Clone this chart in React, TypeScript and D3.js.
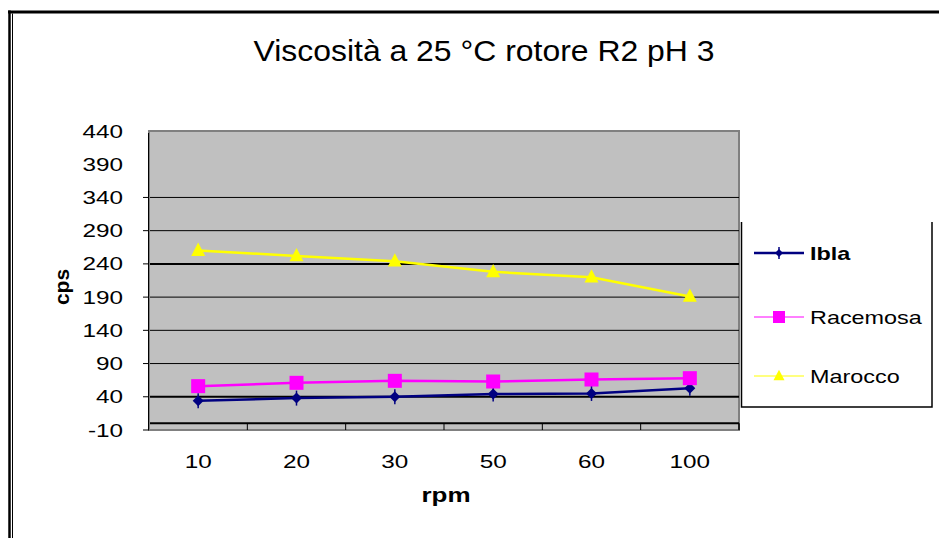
import React from "react";
import * as d3 from "d3";

const categories = ["10", "20", "30", "50", "60", "100"];
const ibla = [34, 38, 40, 44, 45, 53];
const racemosa = [56, 61, 64, 63, 66, 68];
const marocco = [260, 252, 244, 228, 220, 191];
const yTicks = [-10, 40, 90, 140, 190, 240, 290, 340, 390, 440];
const gridValues = [40, 90, 140, 190, 240, 290, 340];

const W = 939;
const H = 538;
const FONT = "'Liberation Sans', Arial, sans-serif";

const series = [
  { name: "Ibla", values: ibla, color: "#000080", width: 2.5, legendWidth: 2.5, marker: "diamond", bold: true },
  { name: "Racemosa", values: racemosa, color: "#FF00FF", width: 2.5, legendWidth: 1, marker: "square", bold: false },
  { name: "Marocco", values: marocco, color: "#FFFF00", width: 2.5, legendWidth: 1.2, marker: "triangle", bold: false },
];

function Marker({ type, x, y, color, size }: { type: string; x: number; y: number; color: string; size: number }) {
  if (type === "square") {
    return <rect x={x - size / 2} y={y - size / 2} width={size} height={size} fill={color} />;
  }
  if (type === "triangle") {
    const h = size * 0.95;
    return (
      <path
        d={`M${x},${y - h * 0.6} L${x + size / 2},${y + h * 0.4} L${x - size / 2},${y + h * 0.4} Z`}
        fill={color}
      />
    );
  }
  const s = size / 2;
  return (
    <g>
      <path d={`M${x},${y - s} L${x + s},${y} L${x},${y + s} L${x - s},${y} Z`} fill={color} />
      <line x1={x} x2={x} y1={y - s - 2} y2={y + s + 2} stroke={color} strokeWidth={1.5} />
    </g>
  );
}

export default function App() {
  const plot = { left: 149, right: 739, top: 131, bottom: 430 };
  const x = d3.scaleBand<string>().domain(categories).range([plot.left, plot.right]).padding(0);
  const y = d3.scaleLinear().domain([-10, 440]).range([plot.bottom, plot.top]);
  const cx = (c: string) => (x(c) as number) + x.bandwidth() / 2;
  const line = d3
    .line<number>()
    .x((_, i) => cx(categories[i]))
    .y((v) => y(v));

  const legendY = [253, 317, 376];

  return (
    <svg width={W} height={H} style={{ position: "absolute", left: 0, top: 0, background: "#fff" }}>
      {/* outer frame */}
      <line x1={8} x2={W} y1={12} y2={12} stroke="#000" strokeWidth={3} />
      <line x1={9.5} x2={9.5} y1={10.5} y2={H} stroke="#000" strokeWidth={2.5} />
      <line x1={12.5} x2={12.5} y1={13.5} y2={H} stroke="#000" strokeWidth={1} />

      {/* title */}
      <text
        x={484}
        y={61}
        textAnchor="middle"
        fontFamily={FONT}
        fontSize={30}
        textLength={461}
        lengthAdjust="spacingAndGlyphs"
        fill="#000"
      >
        Viscosità a 25 °C rotore R2 pH 3
      </text>

      {/* plot area */}
      <rect
        x={plot.left}
        y={plot.top}
        width={plot.right - plot.left}
        height={plot.bottom - plot.top}
        fill="#C0C0C0"
        stroke="#808080"
        strokeWidth={2}
      />
      {gridValues.map((v) => (
        <line
          key={v}
          x1={plot.left}
          x2={plot.right}
          y1={y(v)}
          y2={y(v)}
          stroke="#000"
          strokeWidth={v === 40 || v === 240 ? 2 : 1}
        />
      ))}
      {/* x axis at 0 */}
      <line x1={plot.left} x2={plot.right} y1={y(0)} y2={y(0)} stroke="#000" strokeWidth={2} />
      {categories.map((c) => (
        <line
          key={c}
          x1={x(c) as number}
          x2={x(c) as number}
          y1={y(0)}
          y2={plot.bottom}
          stroke="#000"
          strokeWidth={1}
        />
      ))}
      <line x1={plot.right} x2={plot.right} y1={y(0)} y2={plot.bottom} stroke="#000" strokeWidth={1.5} />
      {/* y axis */}
      <line x1={plot.left} x2={plot.left} y1={plot.top} y2={plot.bottom} stroke="#808080" strokeWidth={2} />
      <line x1={plot.left - 0.5} x2={plot.left - 0.5} y1={plot.top + 2} y2={plot.bottom} stroke="#000" strokeWidth={1} />
      {yTicks
        .filter((v) => v <= 340)
        .map((v) => (
          <line key={v} x1={plot.left - 6} x2={plot.left} y1={y(v)} y2={y(v)} stroke="#000" strokeWidth={1} />
        ))}
      {yTicks.map((v) => (
        <text
          key={v}
          transform={`translate(123,${y(v) + 6.5}) scale(1.35,1)`}
          textAnchor="end"
          fontFamily={FONT}
          fontSize={18}
          fill="#000"
        >
          {v}
        </text>
      ))}
      {categories.map((c) => (
        <text
          key={c}
          transform={`translate(${cx(c)},${468}) scale(1.35,1)`}
          textAnchor="middle"
          fontFamily={FONT}
          fontSize={18}
          fill="#000"
        >
          {c}
        </text>
      ))}
      <text
        transform={`translate(446,502) scale(1.3,1)`}
        textAnchor="middle"
        fontFamily={FONT}
        fontSize={20}
        fontWeight="bold"
        fill="#000"
      >
        rpm
      </text>
      <text
        transform={`translate(69,287) rotate(-90)`}
        textAnchor="middle"
        fontFamily={FONT}
        fontSize={21}
        fontWeight="bold"
        fill="#000"
      >
        cps
      </text>

      {/* series */}
      {series.map((s) => (
        <g key={s.name}>
          <path d={line(s.values) as string} fill="none" stroke={s.color} strokeWidth={s.width} />
          {s.values.map((v, i) => (
            <Marker
              key={i}
              type={s.marker}
              x={cx(categories[i])}
              y={y(v)}
              color={s.color}
              size={s.marker === "square" ? 14 : s.marker === "triangle" ? 14 : 11}
            />
          ))}
        </g>
      ))}

      {/* legend */}
      <path d="M741.5,222 V407 H932 V222" fill="none" stroke="#000" strokeWidth={1.5} />
      {series.map((s, i) => (
        <g key={s.name}>
          <line x1={754} x2={804} y1={legendY[i]} y2={legendY[i]} stroke={s.color} strokeWidth={s.legendWidth} />
          <Marker
            type={s.marker}
            x={779}
            y={legendY[i]}
            color={s.color}
            size={s.marker === "square" ? 12 : s.marker === "triangle" ? 11 : 8}
          />
          <text
            transform={`translate(810,${legendY[i] + 7}) scale(1.3,1)`}
            fontFamily={FONT}
            fontSize={18}
            fontWeight={s.bold ? "bold" : "normal"}
            fill="#000"
          >
            {s.name}
          </text>
        </g>
      ))}
    </svg>
  );
}
